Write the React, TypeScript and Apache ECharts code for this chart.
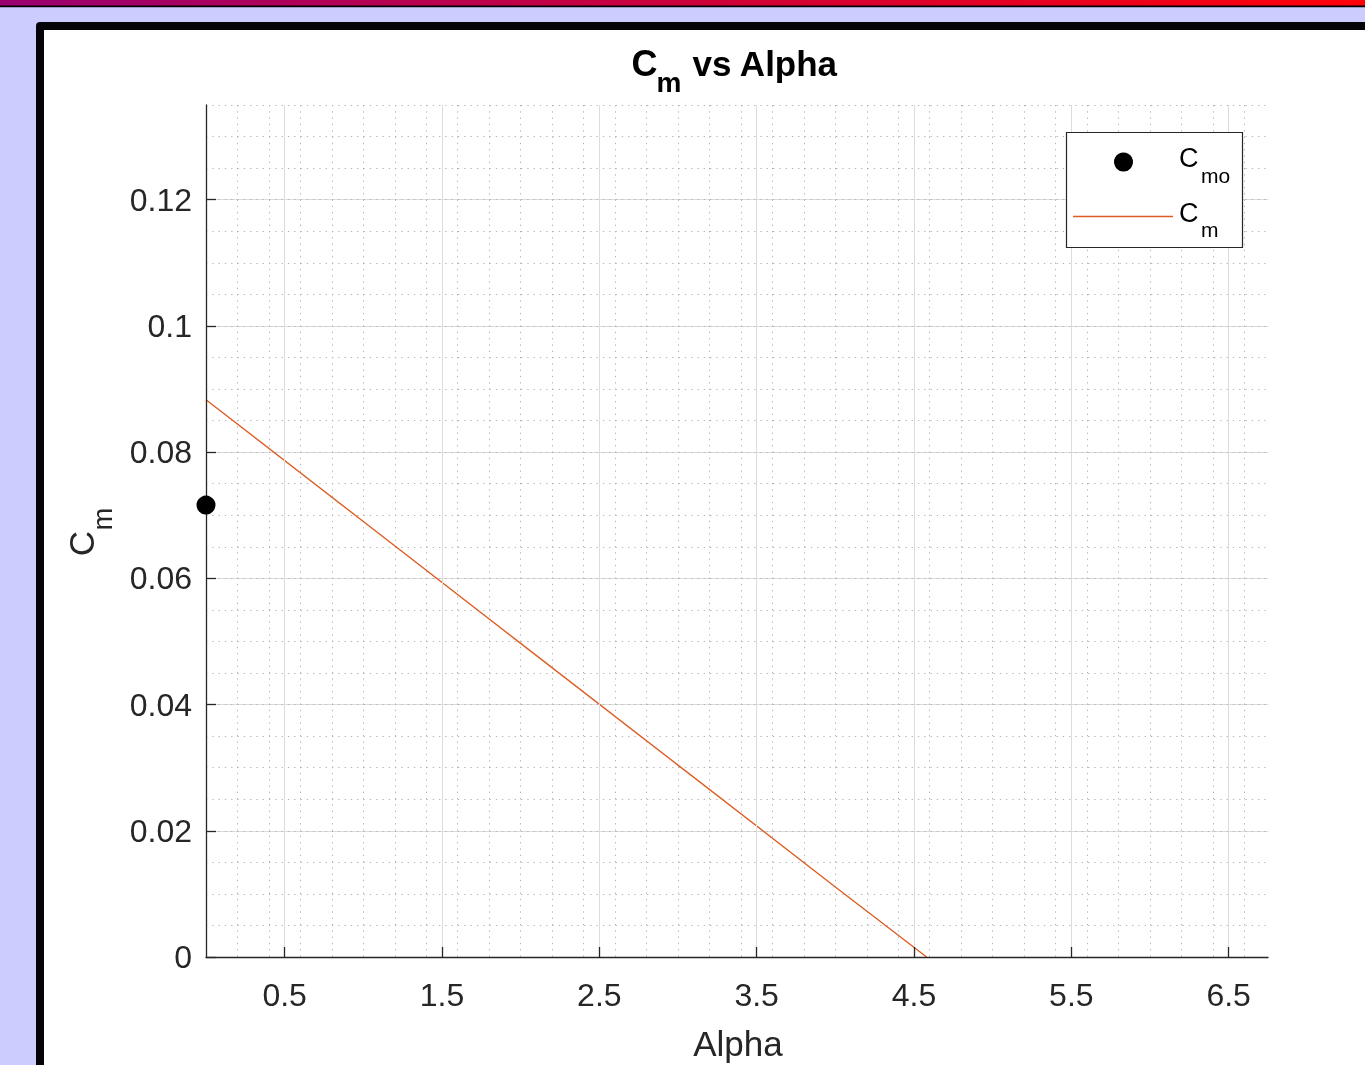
import React, { useEffect, useRef } from "react";
import * as echarts from "echarts";

// ---- data ----
const alphaValues = [0, 1, 2, 3, 4, 4.58];
const cmValues = [0.0883, 0.069, 0.0497, 0.0304, 0.0111, 0];
const cmoAlpha = [0];
const cmoValues = [0.0716];
const xTickValues = [0.5, 1.5, 2.5, 3.5, 4.5, 5.5, 6.5];
const yTickValues = [0, 0.02, 0.04, 0.06, 0.08, 0.1, 0.12];
const xLimits = [0, 6.75];
const yLimits = [0, 0.135];
const xMinorStep = 0.2;
const yMinorStep = 0.005;

const FONT = '"Liberation Sans", Arial, Helvetica, sans-serif';
const AX = "#262626";
const MINOR = "#b3b3b3";
const MAJOR = "#dcdcdc";

export default function App() {
  const ref = useRef<HTMLDivElement>(null);
  useEffect(() => {
    if (!ref.current) return;
    const chart = echarts.init(ref.current, null, { renderer: "svg" });
    const lineData = alphaValues.map((a, i) => [a, cmValues[i]]);
    const cmoData = cmoAlpha.map((a, i) => [a, cmoValues[i]]);
    const txt = (
      text: string,
      x: number,
      y: number,
      size: number,
      opts: any = {}
    ) => ({
      type: "text",
      z: 100,
      silent: true,
      x,
      y,
      rotation: opts.rotation || 0,
      style: {
        text,
        fill: opts.fill || AX,
        fontSize: size,
        fontFamily: FONT,
        fontWeight: opts.bold ? "bold" : "normal",
        align: opts.align || "left",
        verticalAlign: "middle",
      },
    });
    chart.setOption({
      animation: false,
      backgroundColor: "transparent",
      grid: { left: 206, right: 97, top: 105, bottom: 108, containLabel: false },
      xAxis: [
        {
          type: "value",
          min: xLimits[0],
          max: xLimits[1],
          interval: xMinorStep,
          position: "bottom",
          z: 0,
          axisLine: { show: false },
          axisTick: { show: false },
          axisLabel: { show: false },
          splitLine: {
            show: true,
            showMinLine: false,
            showMaxLine: false,
            lineStyle: { color: MINOR, width: 1, type: [1.3, 5] },
          },
        },
        {
          type: "value",
          min: xLimits[0],
          max: xLimits[1],
          position: "bottom",
          z: 6,
          axisLine: { show: true, onZero: false, lineStyle: { color: AX, width: 1.3 } },
          axisTick: {
            show: true,
            inside: true,
            length: 10,
            customValues: xTickValues,
            lineStyle: { color: AX, width: 1.3 },
          },
          axisLabel: {
            show: true,
            customValues: xTickValues,
            margin: 22,
            color: AX,
            fontSize: 32,
            fontFamily: FONT,
            formatter: (v: number) => v.toFixed(1),
          },
          splitLine: { show: false },
        },
      ],
      yAxis: [
        {
          type: "value",
          min: yLimits[0],
          max: yLimits[1],
          interval: 0.02,
          position: "left",
          z: 0,
          axisLine: { show: false },
          axisTick: { show: false },
          axisLabel: { show: false },
          splitLine: {
            show: true,
            showMinLine: false,
            showMaxLine: false,
            lineStyle: { color: MAJOR, width: 1, type: "solid" },
          },
        },
        {
          type: "value",
          min: yLimits[0],
          max: yLimits[1],
          interval: yMinorStep,
          position: "right",
          z: 0,
          axisLine: { show: false },
          axisTick: { show: false },
          axisLabel: { show: false },
          splitLine: {
            show: true,
            showMinLine: false,
            showMaxLine: true,
            lineStyle: { color: MINOR, width: 1, type: [1.3, 5] },
          },
        },
        {
          type: "value",
          min: yLimits[0],
          max: yLimits[1],
          position: "left",
          z: 6,
          axisLine: { show: true, onZero: false, lineStyle: { color: AX, width: 1.3 } },
          axisTick: {
            show: true,
            inside: true,
            length: 10,
            customValues: yTickValues,
            lineStyle: { color: AX, width: 1.3 },
          },
          axisLabel: {
            show: true,
            customValues: yTickValues,
            margin: 14,
            color: AX,
            fontSize: 32,
            fontFamily: FONT,
            formatter: (v: number) => String(+v.toFixed(3)),
          },
          splitLine: { show: false },
        },
      ],
      series: [
        {
          name: "majorGrid",
          type: "line",
          xAxisIndex: 0,
          yAxisIndex: 0,
          data: [],
          z: 1,
          silent: true,
          markLine: {
            silent: true,
            symbol: ["none", "none"],
            label: { show: false },
            lineStyle: { color: MAJOR, width: 1, type: "solid" },
            data: xTickValues.map((v) => ({ xAxis: v })),
          },
        },
        {
          name: "Cm",
          type: "line",
          xAxisIndex: 0,
          yAxisIndex: 0,
          data: lineData,
          symbol: "none",
          z: 3,
          lineStyle: { color: "#DD5E24", width: 1.4 },
        },
        {
          name: "Cmo",
          type: "scatter",
          xAxisIndex: 0,
          yAxisIndex: 0,
          data: cmoData,
          symbol: "circle",
          symbolSize: 19,
          clip: false,
          z: 10,
          itemStyle: { color: "#000000", opacity: 1 },
        },
      ],
      graphic: [
        // page background & frame
        { type: "rect", z: -10, silent: true, shape: { x: 0, y: 0, width: 1365, height: 1065 }, style: { fill: "#ccccff" } },
        {
          type: "rect",
          z: -9,
          silent: true,
          shape: { x: 0, y: 0, width: 1365, height: 6 },
          style: {
            fill: new echarts.graphic.LinearGradient(0, 0, 1, 0, [
              { offset: 0, color: "#99006f" },
              { offset: 1, color: "#ff0008" },
            ]),
          },
        },
        { type: "rect", z: -9, silent: true, shape: { x: 0, y: 5.5, width: 1365, height: 1.8 }, style: { fill: "#000000" } },
        { type: "rect", z: -9, silent: true, shape: { x: 36, y: 22, width: 1360, height: 1080, r: [4, 0, 0, 0] }, style: { fill: "#040408" } },
        { type: "rect", z: -8, silent: true, shape: { x: 44, y: 30, width: 1350, height: 1070 }, style: { fill: "#ffffff" } },
        // title
        txt("C", 631.5, 63, 36, { bold: true, fill: "#000" }),
        txt("m", 656.5, 82, 28, { bold: true, fill: "#000" }),
        txt("vs Alpha", 692.5, 63, 35, { bold: true, fill: "#000" }),
        // axis names
        txt("Alpha", 738, 1043, 35, { align: "center" }),
        txt("C", 81.5, 543.5, 35, { align: "center", rotation: Math.PI / 2 }),
        txt("m", 102.5, 519, 27, { align: "center", rotation: Math.PI / 2 }),
        // legend
        {
          type: "rect",
          z: 90,
          silent: true,
          shape: { x: 1066.5, y: 132.5, width: 176, height: 115 },
          style: { fill: "#ffffff", stroke: AX, lineWidth: 1.2 },
        },
        { type: "circle", z: 95, silent: true, shape: { cx: 1123.5, cy: 162, r: 9.5 }, style: { fill: "#000000" } },
        {
          type: "line",
          z: 95,
          silent: true,
          shape: { x1: 1073, y1: 216.5, x2: 1173, y2: 216.5 },
          style: { stroke: "#DD5E24", lineWidth: 1.4 },
        },
        txt("C", 1179, 157.5, 27, { fill: "#000" }),
        txt("mo", 1201, 175.5, 21, { fill: "#000" }),
        txt("C", 1179, 212.5, 27, { fill: "#000" }),
        txt("m", 1201, 229.5, 21, { fill: "#000" }),
      ],
    });
    return () => chart.dispose();
  }, []);
  return (
    <div
      ref={ref}
      style={{ position: "fixed", left: 0, top: 0, width: 1365, height: 1065 }}
    />
  );
}
